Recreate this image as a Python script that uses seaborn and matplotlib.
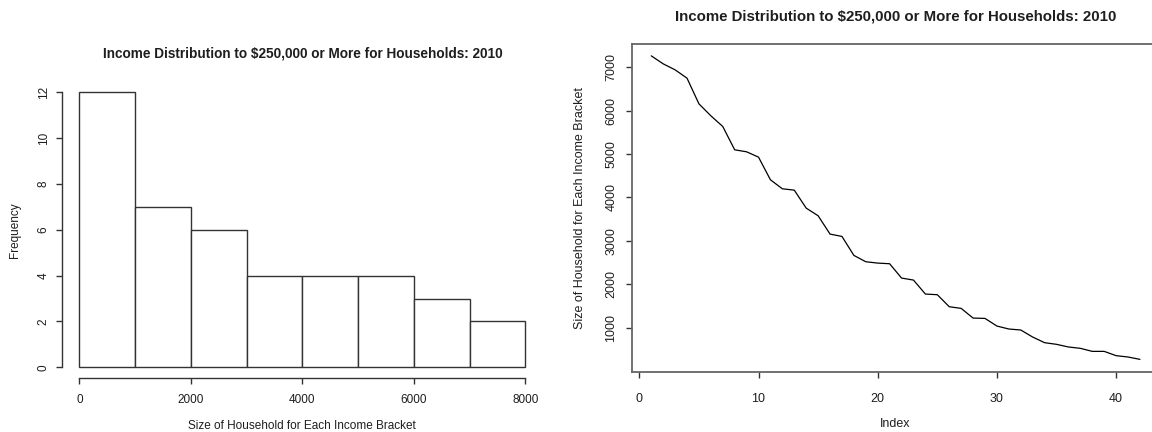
import matplotlib
matplotlib.use("Agg")
import matplotlib.pyplot as plt
import numpy as np
import pandas as pd
import seaborn as sns

# Number of households in each income bracket, brackets ordered from lowest income up to $250,000+
household_sizes = [7261, 7077, 6939, 6747, 6156, 5880, 5634, 5097, 5051, 4928,
                   4406, 4199, 4168, 3754, 3578, 3156, 3102, 2665, 2519, 2488,
                   2473, 2143, 2097, 1775, 1760, 1483, 1445, 1222, 1214, 1038,
                   970, 947, 785, 655, 617, 556, 525, 455, 455, 356, 325, 271]
bracket_index = list(range(1, len(household_sizes) + 1))
bin_edges = [0, 1000, 2000, 3000, 4000, 5000, 6000, 7000, 8000]
hist_yticks = [0, 2, 4, 6, 8, 10, 12]
line_yticks = [1000, 2000, 3000, 4000, 5000, 6000, 7000]
line_xticks = [0, 10, 20, 30, 40]

title_text = "Income Distribution to $250,000 or More for Households: 2010"
size_label = "Size of Household for Each Income Bracket"

df = pd.DataFrame({"Index": bracket_index, "size": household_sizes})

sns.set_theme(style="ticks")
plt.rcParams["font.family"] = ["Liberation Sans", "DejaVu Sans"]
ink = "#1e1e1e"
plt.rcParams["text.color"] = ink
plt.rcParams["axes.labelcolor"] = ink
plt.rcParams["xtick.color"] = "#333333"
plt.rcParams["ytick.color"] = "#333333"
plt.rcParams["xtick.labelcolor"] = ink
plt.rcParams["ytick.labelcolor"] = ink

W, H = 1152, 432
fig = plt.figure(figsize=(W / 100, H / 100), dpi=100)


def px_axes(x0, y0, x1, y1):
    """Axes from pixel box (left, top, right, bottom)."""
    return fig.add_axes([x0 / W, 1 - y1 / H, (x1 - x0) / W, (y1 - y0) / H])


def padded(lo, hi, frac=0.04):
    d = (hi - lo) * frac
    return lo - d, hi + d


# ---------------- histogram ----------------
ax1 = px_axes(61.5, 81.3, 543.2, 378.3)
sns.histplot(x=household_sizes, bins=bin_edges, ax=ax1, color="white",
             edgecolor="#333333", linewidth=1.0, alpha=1.0)
ax1.set_xlim(*padded(bin_edges[0], bin_edges[-1]))
ax1.set_ylim(*padded(0, 12))
ax1.set_xticks(bin_edges[::2])
ax1.set_yticks(hist_yticks)
for s in ("top", "right"):
    ax1.spines[s].set_visible(False)
ax1.spines["left"].set_bounds(0, 12)
ax1.spines["bottom"].set_bounds(bin_edges[0], bin_edges[-1])
for s in ("left", "bottom"):
    ax1.spines[s].set_color("#333333")
    ax1.spines[s].set_linewidth(1.0)
ax1.tick_params(axis="both", direction="out", length=4.3, width=1.0, labelsize=8.5)
ax1.tick_params(axis="x", pad=7)
ax1.tick_params(axis="y", pad=4.3)
for lab in ax1.get_yticklabels():
    lab.set_rotation(90)
    lab.set_va("center")
ax1.set_xlabel(size_label, fontsize=8.5)
ax1.set_ylabel("Frequency", fontsize=8.5)
ax1.xaxis.set_label_coords(0.5, -0.161)
ax1.xaxis.label.set_va("center")
ax1.yaxis.set_label_coords(-0.0965, 0.5)
ax1.yaxis.label.set_va("center")
ax1.set_title(title_text, fontsize=9.85, fontweight="bold", y=1.095, va="center", pad=0)

# ---------------- index plot ----------------
ax2 = px_axes(631.7, 43.7, 1159.5, 371.5)
sns.lineplot(data=df, x="Index", y="size", ax=ax2, color="black", linewidth=0.9)
ax2.set_xlim(*padded(bracket_index[0], bracket_index[-1]))
ax2.set_ylim(*padded(min(household_sizes), max(household_sizes)))
ax2.set_xticks(line_xticks)
ax2.set_yticks(line_yticks)
for s in ax2.spines.values():
    s.set_color("#666666")
    s.set_linewidth(1.3)
ax2.tick_params(axis="both", direction="out", length=4.3, width=1.0, labelsize=9)
ax2.tick_params(axis="x", pad=11)
ax2.tick_params(axis="y", pad=6.1)
for lab in ax2.get_yticklabels():
    lab.set_rotation(90)
    lab.set_va("center")
ax2.set_xlabel("Index", fontsize=9)
ax2.set_ylabel(size_label, fontsize=9)
ax2.xaxis.set_label_coords(0.5, -0.16)
ax2.xaxis.label.set_va("center")
ax2.yaxis.set_label_coords(-0.098, 0.5)
ax2.yaxis.label.set_va("center")
ax2.set_title(title_text, fontsize=10.8, fontweight="bold", y=1.084, va="center", pad=0)

fig.savefig("out.png", dpi=100, facecolor="white")
